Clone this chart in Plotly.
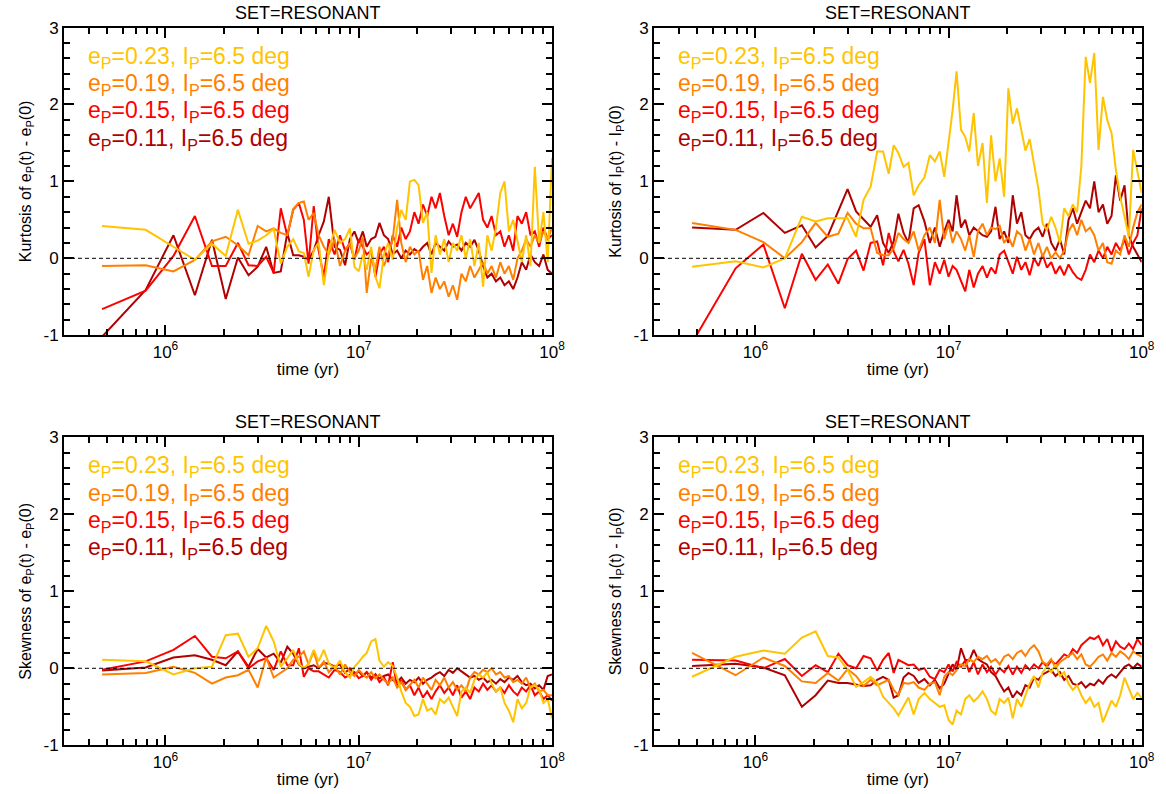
import plotly.graph_objects as go

# ---------------- data ----------------
time_yr = [
    4.7e5, 7.9e5, 1.10e6, 1.42e6, 1.74e6, 2.05e6, 2.37e6, 2.69e6, 3.00e6, 3.32e6,
    3.63e6, 3.95e6, 4.27e6, 4.58e6, 4.90e6, 5.20e6, 5.50e6, 5.85e6, 6.20e6, 6.60e6,
    7.0e6, 7.5e6, 8.0e6, 8.5e6, 9.0e6, 9.5e6, 1.00e7, 1.05e7, 1.10e7, 1.16e7,
    1.22e7, 1.28e7, 1.35e7, 1.42e7, 1.50e7, 1.58e7, 1.66e7, 1.75e7, 1.84e7, 1.94e7,
    2.04e7, 2.15e7, 2.26e7, 2.38e7, 2.50e7, 2.63e7, 2.77e7, 2.92e7, 3.07e7, 3.23e7,
    3.40e7, 3.58e7, 3.77e7, 3.97e7, 4.18e7, 4.40e7, 4.63e7, 4.87e7, 5.13e7, 5.40e7,
    5.68e7, 5.98e7, 6.30e7, 6.63e7, 6.98e7, 7.35e7, 7.74e7, 8.15e7, 8.58e7, 9.03e7,
    9.50e7, 1.00e8,
]

series_labels = ["0.23", "0.19", "0.15", "0.11"]

# Kurtosis of e_P(t) - e_P(0)
kurt_e_023 = [0.42, 0.37, 0.15, -0.02, 0.19, 0.03, 0.63, 0.19, 0.23, 0.30,
              0.38, -0.07, 0.15, 0.25, 0.09, 0.07, -0.24, 0.11, 0.20, -0.35,
              0.10, 0.37, 0.20, 0.25, 0.39, -0.11, -0.17, 0.05, -0.15, 0.15,
              -0.24, -0.39, 0.05, 0.20, -0.02, 0.40, 0.63, 0.50, 1.00, 1.02,
              0.95, 0.46, 0.60, -0.19, 0.30, 0.05, 0.25, -0.05, 0.20, 0.10,
              0.30, 0.00, 0.25, -0.10, 0.20, -0.37, 0.30, 0.10, 0.40, 0.85,
              1.00, 0.35, 0.50, 0.20, -0.05, 0.30, -0.10, 1.19, 0.20, 0.60,
              -0.05, 1.30]
kurt_e_019 = [-0.10, -0.09, -0.17, -0.02, 0.22, 0.28, 0.17, 0.04, 0.42, 0.35,
              0.39, 0.33, 0.30, 0.64, 0.72, 0.74, 0.50, 0.59, 0.30, 0.15,
              0.05, 0.25, -0.10, 0.10, 0.20, 0.00, 0.10, 0.28, -0.45, 0.00,
              -0.15, 0.15, -0.10, 0.05, 0.25, 0.76, 0.20, -0.05, 0.15, 0.05,
              0.10, -0.28, -0.10, -0.45, -0.25, -0.40, -0.30, -0.50, -0.35, -0.54,
              -0.20, -0.30, -0.10, -0.25, -0.15, -0.05, -0.20, -0.10, -0.25, -0.05,
              -0.20, -0.10, -0.28, 0.00, 0.10, 0.25, 0.15, 0.30, 0.20, 0.35,
              0.25, 0.40]
kurt_e_015 = [-0.66, -0.42, 0.03, 0.55, -0.10, -0.10, 0.20, -0.09, -0.10, 0.02,
              -0.19, 0.65, 0.29, 0.63, 0.72, 0.50, -0.07, 0.68, 0.10, -0.24,
              0.25, 0.05, 0.30, 0.10, 0.20, -0.02, 0.25, 0.15, 0.05, 0.10,
              -0.24, 0.05, 0.15, -0.05, 0.30, 0.15, 0.40, 0.25, 0.35, 0.60,
              0.45, 0.70, 0.55, 0.80, 0.65, 0.85, 0.55, 0.30, 0.45, 0.28,
              0.60, 0.80, 0.65, 0.75, 0.85, 0.50, 0.40, 0.55, 0.30, 0.35,
              0.15, 0.30, 0.10, 0.55, 0.45, 0.60, 0.30, 0.35, 0.15, 0.40,
              0.25, 0.30]
kurt_e_011 = [-1.02, -0.41, 0.30, -0.48, 0.24, -0.53, 0.01, -0.22, -0.11, 0.15,
              -0.19, -0.17, 0.33, 0.04, 0.04, 0.02, -0.02, 0.10, 0.30, 0.48,
              0.80, 0.15, 0.11, -0.09, 0.25, 0.35, 0.20, 0.35, 0.15, 0.25,
              0.28, 0.46, 0.30, 0.25, 0.05, 0.10, 0.00, 0.10, 0.05, 0.12,
              0.08, 0.15, 0.20, 0.05, 0.20, 0.15, 0.10, 0.22, 0.15, 0.18,
              0.10, 0.20, 0.15, 0.24, 0.10, -0.10, -0.25, -0.20, -0.30, -0.25,
              -0.35, -0.30, -0.40, -0.25, -0.05, -0.15, 0.05, -0.05, -0.10, 0.05,
              -0.15, -0.20]

# Kurtosis of I_P(t) - I_P(0)
kurt_i_023 = [-0.11, -0.04, -0.12, 0.00, 0.54, 0.48, 0.52, 0.52, 0.52, 0.28,
              0.76, 0.93, 1.39, 1.39, 1.10, 1.47, 1.37, 1.19, 1.24, 0.82,
              0.95, 1.05, 1.34, 1.26, 1.39, 1.06, 1.50, 1.93, 2.43, 1.67,
              1.58, 1.39, 1.89, 1.20, 1.50, 0.72, 1.60, 1.00, 1.30, 0.80,
              2.21, 1.75, 1.95, 1.67, 1.40, 1.55, 1.20, 0.90, 0.45, 0.37,
              0.54, 0.40, 0.20, 0.65, 0.55, 0.70, 0.60, 1.20, 2.62, 2.28,
              2.67, 1.41, 2.10, 1.80, 1.63, 1.15, 0.80, 0.54, 0.28, 1.41,
              1.15, 0.85]
kurt_i_019 = [0.46, 0.37, 0.21, 0.00, 0.21, 0.46, 0.28, 0.32, 0.59, 0.45,
              0.39, 0.39, 0.07, 0.04, 0.04, 0.13, 0.33, 0.25, 0.20, 0.35,
              0.10, 0.30, 0.40, 0.20, 0.76, 0.25, 0.45, 0.20, 0.35, 0.25,
              0.10, 0.30, 0.02, 0.35, 0.45, 0.30, 0.40, 0.38, 0.42, 0.20,
              0.28, 0.15, 0.35, 0.30, 0.10, 0.25, 0.05, 0.20, 0.02, 0.15,
              0.00, 0.08, 0.00, 0.10, 0.35, 0.45, 0.30, 0.50, 0.35, 0.40,
              0.30, 0.10, 0.20, -0.05, -0.07, 0.10, 0.05, 0.30, 0.15, 0.40,
              0.60, 0.70]
kurt_i_015 = [-1.10, -0.13, 0.18, -0.65, 0.06, -0.28, -0.08, -0.33, -0.01, 0.10,
              -0.16, 0.20, 0.22, -0.09, 0.33, 0.09, -0.04, 0.11, -0.07, -0.35,
              0.07, 0.25, -0.35, -0.05, -0.20, -0.02, -0.24, -0.10, -0.15, -0.30,
              -0.43, -0.15, -0.38, -0.20, -0.10, -0.25, -0.12, -0.20, 0.05, 0.10,
              -0.05, -0.20, 0.02, -0.15, -0.05, -0.22, 0.00, -0.10, 0.05, -0.12,
              -0.05, -0.20, -0.10, -0.22, -0.08, -0.18, -0.25, -0.28, -0.15, 0.05,
              -0.05, 0.10, 0.00, 0.15, 0.05, 0.20, 0.10, 0.25, 0.05, 0.20,
              0.30, 0.65]
kurt_i_011 = [0.40, 0.37, 0.59, 0.33, 0.43, 0.14, 0.29, 0.61, 0.90, 0.61,
              0.50, 0.41, 0.56, 0.20, 0.07, 0.22, 0.58, 0.33, 0.20, 0.65,
              0.69, 0.48, 0.20, 0.40, 0.15, 0.35, 0.50, 0.35, 0.82, 0.40,
              0.50, 0.30, 0.40, 0.35, 0.30, 0.28, 0.35, 0.67, 0.25, 0.35,
              0.20, 0.82, 0.45, 0.60, 0.30, 0.25, 0.35, 0.40, 0.28, 0.45,
              0.20, 0.10, 0.25, 0.05, 0.50, 0.65, 0.45, 0.60, 0.75, 0.65,
              1.00, 0.60, 0.70, 0.45, 0.55, 1.08, 0.75, 0.95, 0.30, 0.15,
              0.05, -0.05]

# Skewness of e_P(t) - e_P(0)
skew_e_023 = [0.11, 0.09, -0.08, 0.00, 0.02, 0.43, 0.45, 0.15, 0.26, 0.55,
              0.35, 0.02, 0.13, 0.24, 0.06, 0.00, 0.06, 0.24, 0.09, 0.24,
              0.06, 0.00, 0.10, -0.05, -0.12, 0.02, 0.08, 0.15, 0.20, 0.35,
              0.38, 0.10, 0.02, 0.08, 0.03, -0.12, -0.30, -0.45, -0.50, -0.62,
              -0.60, -0.40, -0.55, -0.52, -0.60, -0.40, -0.45, -0.38, -0.50, -0.62,
              -0.30, -0.25, -0.32, -0.15, -0.08, -0.12, -0.05, -0.20, -0.30, -0.25,
              -0.45, -0.55, -0.70, -0.40, -0.52, -0.45, -0.25, -0.22, -0.28, -0.45,
              -0.40, -0.65]
skew_e_019 = [-0.08, -0.06, 0.02, -0.06, -0.20, -0.12, -0.09, -0.02, -0.25, 0.14,
              -0.12, -0.06, 0.00, 0.11, 0.15, 0.22, 0.05, 0.22, 0.00, 0.09,
              -0.05, 0.03, -0.08, 0.05, -0.05, -0.10, -0.02, -0.08, -0.12, -0.05,
              -0.13, -0.08, -0.15, -0.20, -0.12, -0.25, -0.18, -0.28, -0.22, -0.15,
              -0.25, -0.12, -0.20, -0.28, -0.15, -0.22, -0.12, -0.25, -0.18, -0.28,
              -0.22, -0.30, -0.12, -0.05, -0.08, -0.02, -0.05, 0.00, -0.08, -0.05,
              -0.12, -0.10, -0.18, -0.15, -0.20, -0.12, -0.25, -0.20, -0.30, -0.28,
              -0.35, -0.35]
skew_e_015 = [-0.02, 0.09, 0.24, 0.42, 0.15, 0.13, 0.22, 0.00, 0.09, 0.13,
              -0.02, 0.22, 0.04, 0.04, 0.26, -0.11, 0.00, -0.04, -0.04, -0.08,
              -0.12, -0.02, -0.05, -0.12, -0.08, -0.05, -0.13, -0.10, -0.05, -0.15,
              -0.08, -0.18, -0.12, -0.22, 0.08, -0.25, -0.15, -0.28, -0.22, -0.35,
              -0.25, -0.38, -0.30, -0.40, -0.30, -0.22, -0.32, -0.25, -0.35, -0.22,
              -0.38, -0.30, -0.40, -0.25, -0.30, -0.20, -0.28, -0.22, -0.30, -0.25,
              -0.32, -0.22, -0.30, -0.35, -0.25, -0.30, -0.22, -0.35, -0.30, -0.40,
              -0.35, -0.42]
skew_e_011 = [-0.03, 0.01, 0.14, 0.17, 0.11, 0.04, 0.22, 0.02, 0.25, 0.14,
              0.19, 0.07, 0.28, 0.19, 0.05, 0.00, 0.02, 0.04, 0.00, 0.07,
              0.06, 0.02, 0.05, -0.06, 0.00, -0.08, -0.04, -0.10, -0.05, -0.12,
              -0.08, -0.13, -0.10, -0.08, -0.15, -0.18, -0.12, -0.20, -0.15, -0.18,
              -0.12, -0.20, -0.15, -0.12, -0.08, -0.05, -0.10, -0.02, -0.06, 0.00,
              -0.04, -0.08, -0.12, -0.10, -0.15, -0.12, -0.18, -0.15, -0.20, -0.14,
              -0.18, -0.12, -0.15, -0.10, -0.18, -0.22, -0.20, -0.26, -0.22, -0.28,
              -0.10, -0.08]

# Skewness of I_P(t) - I_P(0)
skew_i_023 = [-0.11, 0.15, 0.23, 0.19, 0.40, 0.48, 0.16, 0.14, -0.02, -0.24,
              -0.18, -0.11, -0.19, -0.37, -0.45, -0.52, -0.61, -0.50, -0.38, -0.60,
              -0.40, -0.32, -0.40, -0.45, -0.50, -0.48, -0.67, -0.73, -0.55, -0.60,
              -0.40, -0.35, -0.43, -0.38, -0.30, -0.40, -0.55, -0.60, -0.40, -0.45,
              -0.38, -0.65, -0.40, -0.50, -0.35, -0.20, -0.10, -0.25, -0.05, 0.02,
              -0.05, 0.05, -0.10, -0.05, -0.20, -0.28, -0.22, -0.35, -0.45, -0.38,
              -0.50, -0.45, -0.70, -0.55, -0.42, -0.50, -0.35, -0.12, -0.25, -0.40,
              -0.32, -0.38]
skew_i_019 = [0.20, -0.09, 0.14, 0.03, -0.17, -0.19, -0.06, -0.16, -0.01, -0.10,
              -0.23, -0.15, -0.22, -0.18, -0.15, -0.28, -0.35, -0.19, -0.20, -0.18,
              -0.25, -0.28, -0.20, -0.18, -0.35, -0.11, -0.05, -0.09, -0.02, 0.05,
              0.03, 0.12, 0.08, 0.15, 0.12, 0.16, 0.08, 0.12, 0.05, 0.15,
              0.18, 0.12, 0.20, 0.23, 0.16, 0.25, 0.30, 0.22, 0.08, 0.05,
              0.12, 0.00, 0.08, 0.12, 0.15, 0.20, 0.12, 0.18, 0.05, 0.02,
              0.08, 0.15, 0.18, 0.10, 0.20, 0.15, 0.22, 0.18, 0.12, 0.22,
              0.18, 0.15]
skew_i_015 = [0.11, 0.10, 0.00, 0.12, -0.10, 0.04, -0.05, 0.19, 0.04, 0.00,
              0.16, 0.13, -0.03, 0.11, 0.20, -0.06, 0.11, 0.07, 0.04, 0.05,
              -0.02, 0.00, -0.11, -0.14, -0.02, -0.05, 0.05, -0.04, 0.08, 0.02,
              0.10, -0.05, 0.08, -0.08, 0.05, -0.05, 0.02, -0.08, 0.00, -0.05,
              0.03, -0.08, 0.02, -0.06, 0.04, -0.02, 0.05, 0.00, 0.08, 0.02,
              0.10, 0.05, 0.12, 0.18, 0.15, 0.25, 0.20, 0.30, 0.35, 0.40,
              0.38, 0.42, 0.30, 0.38, 0.22, 0.35, 0.28, 0.25, 0.32, 0.25,
              0.38, 0.30]
skew_i_011 = [0.03, 0.06, 0.01, -0.09, -0.50, -0.35, -0.16, -0.19, -0.19, -0.21,
              -0.23, -0.22, -0.15, -0.11, -0.15, -0.38, -0.35, -0.12, -0.06, -0.10,
              -0.19, -0.14, -0.22, -0.15, -0.26, -0.20, -0.08, 0.05, -0.02, 0.26,
              0.11, 0.10, 0.24, 0.12, 0.08, 0.05, -0.05, -0.10, -0.20, -0.30,
              -0.25, -0.38, -0.30, -0.35, -0.22, -0.25, -0.12, -0.15, -0.08, -0.05,
              -0.02, -0.10, -0.05, -0.15, -0.10, -0.20, -0.22, -0.18, -0.25, -0.20,
              -0.22, -0.15, -0.20, -0.12, -0.08, -0.12, -0.05, 0.02, 0.05, 0.00,
              0.06, 0.02]

x_tickvals = [1e6, 1e7, 1e8]
x_ticktext = ["10<sup>6</sup>", "10<sup>7</sup>", "10<sup>8</sup>"]
x_minor_tickvals = [4e5, 5e5, 6e5, 7e5, 8e5, 9e5,
                    2e6, 3e6, 4e6, 5e6, 6e6, 7e6, 8e6, 9e6,
                    2e7, 3e7, 4e7, 5e7, 6e7, 7e7, 8e7, 9e7]
y_tickvals = [-1, 0, 1, 2, 3]
y_ticktext = ["-1", "0", "1", "2", "3"]

# ---------------- styling ----------------
colors = ["#FFC400", "#FF8000", "#FF0000", "#B00000"]
FONT = "Liberation Sans, Arial, Helvetica, sans-serif"

panels = [
    dict(n="", data=[kurt_e_023, kurt_e_019, kurt_e_015, kurt_e_011],
         ytitle="Kurtosis of e<sub>P</sub>(t) - e<sub>P</sub>(0)",
         xdom=[0.05489, 0.47341], ydom=[0.57783, 0.96524]),
    dict(n="2", data=[kurt_i_023, kurt_i_019, kurt_i_015, kurt_i_011],
         ytitle="Kurtosis of I<sub>P</sub>(t) - I<sub>P</sub>(0)",
         xdom=[0.56089, 0.97916], ydom=[0.57783, 0.96524]),
    dict(n="3", data=[skew_e_023, skew_e_019, skew_e_015, skew_e_011],
         ytitle="Skewness of e<sub>P</sub>(t) - e<sub>P</sub>(0)",
         xdom=[0.05489, 0.47341], ydom=[0.06134, 0.44924]),
    dict(n="4", data=[skew_i_023, skew_i_019, skew_i_015, skew_i_011],
         ytitle="Skewness of I<sub>P</sub>(t) - I<sub>P</sub>(0)",
         xdom=[0.56089, 0.97916], ydom=[0.06134, 0.44924]),
]

fig = go.Figure()
shapes = []
annotations = []
layout_axes = {}

for p in panels:
    n = p["n"]
    xref, yref = "x" + n, "y" + n
    # draw dark red first so yellow ends on top
    for k in [3, 2, 1, 0]:
        vals = p["data"][k]
        assert len(vals) == len(time_yr), (n, k, len(vals))
        fig.add_trace(go.Scatter(
            x=time_yr, y=vals, mode="lines",
            line=dict(color=colors[k], width=2),
            xaxis=xref, yaxis=yref, showlegend=False,
            name="e_P=" + series_labels[k],
        ))
    layout_axes["xaxis" + n] = dict(
        domain=p["xdom"], anchor=yref, type="log", range=[5.475, 8.0],
        tickmode="array", tickvals=x_tickvals, ticktext=x_ticktext,
        ticks="inside", ticklen=10, tickwidth=1.5, tickcolor="black",
        showline=True, linecolor="black", linewidth=2, mirror="ticks",
        showgrid=False, zeroline=False,
        minor=dict(tickmode="array", tickvals=x_minor_tickvals, ticks="inside",
                   ticklen=6, tickwidth=1.5, tickcolor="black", showgrid=False),
        tickfont=dict(size=17, color="black", family=FONT),
        title=dict(text="time (yr)", font=dict(size=17, color="black", family=FONT),
                   standoff=2),
        automargin=False,
    )
    layout_axes["yaxis" + n] = dict(
        domain=p["ydom"], anchor=xref, range=[-1, 3],
        tickmode="array", tickvals=y_tickvals, ticktext=y_ticktext,
        ticks="inside", ticklen=10, tickwidth=1.5, tickcolor="black",
        showline=True, linecolor="black", linewidth=2, mirror="ticks",
        showgrid=False, zeroline=False,
        minor=dict(dtick=0.2, tick0=0, ticks="inside", ticklen=6,
                   tickwidth=1.5, tickcolor="black", showgrid=False),
        tickfont=dict(size=17, color="black", family=FONT),
        title=dict(text=p["ytitle"], font=dict(size=16, color="black", family=FONT),
                   standoff=8),
        automargin=False,
    )
    shapes.append(dict(type="line", xref=xref + " domain", yref=yref,
                       x0=0, x1=1, y0=0, y1=0,
                       line=dict(color="black", width=1, dash="4px,3px")))
    # panel title
    annotations.append(dict(text="SET=RESONANT", xref=xref + " domain", yref=yref + " domain",
                            x=0.5, y=1.0, xanchor="center", yanchor="bottom", yshift=3,
                            showarrow=False,
                            font=dict(size=18, color="black", family=FONT)))
    # in-plot legend
    for k in range(4):
        annotations.append(dict(
            text="e<sub>P</sub>=" + series_labels[k] + ", I<sub>P</sub>=6.5 deg",
            xref=xref + " domain", yref=yref + " domain",
            x=0.046, y=0.904 - 0.0888 * k, xanchor="left", yanchor="middle",
            showarrow=False, font=dict(size=23, color=colors[k], family=FONT)))

fig.update_layout(
    width=1166, height=794,
    margin=dict(l=0, r=0, t=0, b=0),
    paper_bgcolor="white", plot_bgcolor="white",
    font=dict(family=FONT, color="black"),
    shapes=shapes, annotations=annotations,
    **layout_axes,
)

fig.write_html("out.html")
